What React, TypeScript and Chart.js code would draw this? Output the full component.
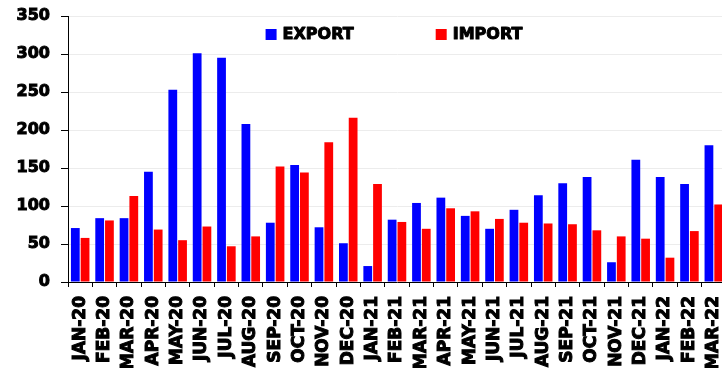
import React, { useEffect, useRef } from "react";
import { Chart, registerables } from "chart.js";

Chart.register(...registerables);

// Monthly trade values, Jan 2020 – Mar 2022
const months = [
  "JAN-20", "FEB-20", "MAR-20", "APR-20", "MAY-20", "JUN-20", "JUL-20", "AUG-20", "SEP-20",
  "OCT-20", "NOV-20", "DEC-20", "JAN-21", "FEB-21", "MAR-21", "APR-21", "MAY-21", "JUN-21",
  "JUL-21", "AUG-21", "SEP-21", "OCT-21", "NOV-21", "DEC-21", "JAN-22", "FEB-22", "MAR-22",
];

const exportValues = [
  71, 84, 84, 145, 253, 301, 295, 208, 78,
  154, 72, 51, 21, 82, 104, 111, 87, 70,
  95, 114, 130, 138, 26, 161, 138, 129, 180,
];

const importValues = [
  58, 81, 113, 69, 55, 73, 47, 60, 152,
  144, 184, 216, 129, 79, 70, 97, 93, 83,
  78, 77, 76, 68, 60, 57, 32, 67, 102,
];

const yMin = 0;
const yMax = 350;
const yStep = 50;

const CANVAS_W = 726;
const CANVAS_H = 400;
const AXIS_LEFT = 68;
const AXIS_TOP = 16;
const AXIS_BOTTOM = 282;

const FONT = '"DejaVu Sans", sans-serif';

// Legend drawn inside the plot area, near the top
const insideLegend = {
  id: "insideLegend",
  afterDraw(chart: any) {
    const { ctx, chartArea } = chart;
    const items = chart.data.datasets.map((ds: any) => ({
      label: ds.label as string,
      color: ds.backgroundColor as string,
    }));
    ctx.save();
    ctx.font = `bold 16px ${FONT}`;
    ctx.textBaseline = "middle";
    ctx.textAlign = "left";
    ctx.lineWidth = 1;
    ctx.strokeStyle = "#000";
    ctx.lineJoin = "round";
    const box = 11;
    const gap = 6;
    const spacing = 82;
    const widths = items.map((it: any) => box + gap + ctx.measureText(it.label).width);
    const total = widths.reduce((a: number, b: number) => a + b, 0) + spacing * (items.length - 1);
    let x = (chartArea.left + chartArea.right) / 2 - total / 2 - 3;
    const cy = chartArea.top + 18.5;
    items.forEach((it: any, i: number) => {
      ctx.fillStyle = it.color;
      ctx.fillRect(x, cy - box / 2, box, box);
      ctx.fillStyle = "#000";
      ctx.strokeText(it.label, x + box + gap, cy + 0.5);
      ctx.fillText(it.label, x + box + gap, cy + 0.5);
      x += widths[i] + spacing;
    });
    ctx.restore();
  },
};

export default function App() {
  const canvasRef = useRef<HTMLCanvasElement | null>(null);

  useEffect(() => {
    if (!canvasRef.current) return;
    const chart = new Chart(canvasRef.current, {
      type: "bar",
      data: {
        labels: months,
        datasets: [
          { label: "EXPORT", data: exportValues, backgroundColor: "#0000ff", borderWidth: 0 },
          { label: "IMPORT", data: importValues, backgroundColor: "#ff0000", borderWidth: 0 },
        ],
      },
      options: {
        animation: false,
        responsive: false,
        maintainAspectRatio: false,
        devicePixelRatio: 1,
        layout: { padding: { top: AXIS_TOP, left: 0, right: 0, bottom: 0 } },
        plugins: {
          legend: { display: false },
          tooltip: { enabled: false },
        },
        scales: {
          x: {
            grid: {
              offset: true,
              drawOnChartArea: false,
              drawTicks: true,
              tickLength: 5,
              color: "#000",
            },
            border: { color: "#000", width: 1 },
            ticks: {
              autoSkip: false,
              minRotation: 90,
              maxRotation: 90,
              padding: 9,
              color: "#000",
              textStrokeColor: "#000",
              textStrokeWidth: 1,
              font: { family: FONT, size: 17, weight: "bold" },
            },
            afterFit(scale: any) {
              scale.height = CANVAS_H - AXIS_BOTTOM;
              scale.paddingLeft = 0;
              scale.paddingRight = 0;
            },
          },
          y: {
            min: yMin,
            max: yMax,
            ticks: {
              stepSize: yStep,
              padding: 11,
              color: "#000",
              textStrokeColor: "#000",
              textStrokeWidth: 1,
              font: { family: FONT, size: 16, weight: "bold" },
            },
            grid: {
              color: "#ececec",
              tickColor: "#000",
              tickLength: 7,
              lineWidth: 1,
            },
            border: { color: "#000", width: 1 },
            afterFit(scale: any) {
              scale.width = AXIS_LEFT;
              scale.paddingTop = 0;
              scale.paddingBottom = 0;
            },
          },
        },
      },
      plugins: [insideLegend],
    });
    return () => chart.destroy();
  }, []);

  return (
    <div
      style={{
        position: "fixed",
        left: 0,
        top: 0,
        width: 722,
        height: 368,
        overflow: "hidden",
        background: "#fff",
      }}
    >
      <canvas ref={canvasRef} width={CANVAS_W} height={CANVAS_H} style={{ display: "block" }} />
    </div>
  );
}
